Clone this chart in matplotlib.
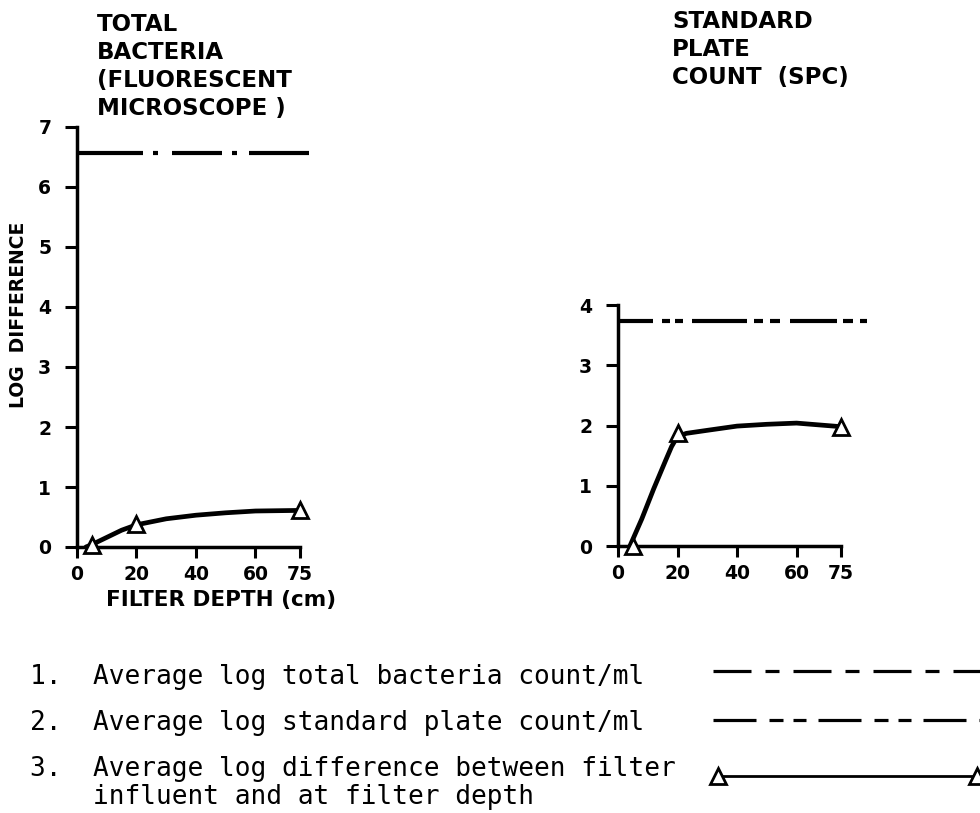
import matplotlib
matplotlib.use("Agg")
import matplotlib.pyplot as plt

# ---- values ----
depth_ticks = [0, 20, 40, 60, 75]
sample_depth = [5, 20, 75]

# total bacteria (fluorescent microscope)
tb_yticks = [0, 1, 2, 3, 4, 5, 6, 7]
tb_influent = 6.57
tb_diff = [0.03, 0.38, 0.61]
tb_curve_x = [3, 5, 10, 15, 20, 30, 40, 50, 60, 75]
tb_curve_y = [0.0, 0.04, 0.16, 0.28, 0.37, 0.47, 0.53, 0.57, 0.60, 0.61]

# standard plate count
spc_yticks = [0, 1, 2, 3, 4]
spc_influent = 3.73
spc_diff = [0.0, 1.87, 1.97]
spc_curve_x = [4, 8, 12, 16, 18, 20, 23, 30, 40, 50, 60, 75]
spc_curve_y = [0.0, 0.45, 0.95, 1.42, 1.65, 1.82, 1.87, 1.92, 1.99, 2.02, 2.04, 1.98]

titles = ["TOTAL\nBACTERIA\n(FLUORESCENT\nMICROSCOPE )",
          "STANDARD\nPLATE\nCOUNT  (SPC)"]
legend_text = ["1.  Average log total bacteria count/ml",
               "2.  Average log standard plate count/ml",
               "3.  Average log difference between filter",
               "    influent and at filter depth"]

plt.rcParams['lines.scale_dashes'] = False
plt.rcParams['font.family'] = ['DejaVu Sans']

W, H = 980, 813
fig = plt.figure(figsize=(W / 100, H / 100), dpi=100)
fig.patch.set_facecolor('white')


def px_axes(x0, y0, x1, y1):
    # box in pixels, origin top-left
    return fig.add_axes([x0 / W, 1 - y1 / H, (x1 - x0) / W, (y1 - y0) / H])


def pt(seq):
    return [v * 0.72 for v in seq]


def style(ax, yticks):
    for s in ['top', 'right']:
        ax.spines[s].set_visible(False)
    for s in ['left', 'bottom']:
        ax.spines[s].set_linewidth(2.5)
    ax.spines['bottom'].set_bounds(0, 75)
    ax.set_xticks(depth_ticks)
    ax.set_yticks(yticks)
    ax.tick_params(axis='y', length=8.5, width=2.2, pad=10, labelsize=13.5)
    ax.tick_params(axis='x', length=8, width=2.2, pad=5, labelsize=13.5)
    for lab in ax.get_xticklabels() + ax.get_yticklabels():
        lab.set_fontweight('bold')
    ax.patch.set_visible(False)


def draw_diff(ax, cx, cy, diff):
    ax.plot(cx, cy, color='black', lw=3.4, solid_capstyle='round',
            solid_joinstyle='round', clip_on=False)
    ax.plot(sample_depth, diff, ls='none', marker='^', ms=11, mfc='white',
            mec='black', mew=2, zorder=3, clip_on=False)


# left panel
ax1 = px_axes(77, 127, 309, 547)
ax1.set_xlim(0, 78)
ax1.set_ylim(0, 7)
style(ax1, tb_yticks)
ax1.axhline(tb_influent, color='black', lw=3,
            ls=(0, pt([66, 10, 5, 14, 50, 10, 5, 12, 60, 10])))
draw_diff(ax1, tb_curve_x, tb_curve_y, tb_diff)

# right panel
ax2 = px_axes(618, 305, 868, 546)
ax2.set_xlim(0, 84)
ax2.set_ylim(0, 4)
style(ax2, spc_yticks)
ax2.axhline(spc_influent, color='black', lw=3,
            ls=(0, pt([35, 9, 8, 5, 8, 9, 55, 7, 9, 7, 10, 10, 47, 6, 10, 7, 7, 20])))
draw_diff(ax2, spc_curve_x, spc_curve_y, spc_diff)

# panel titles and axis labels
fig.text(97 / W, 1 - 13 / H, titles[0], ha='left', va='top', fontsize=16.5,
         fontweight='bold', linespacing=1.28)
fig.text(672 / W, 1 - 10 / H, titles[1], ha='left', va='top', fontsize=16.5,
         fontweight='bold', linespacing=1.28)
fig.text(18 / W, 1 - 315 / H, "LOG  DIFFERENCE", rotation=90, ha='center',
         va='center', fontsize=13.5, fontweight='bold')
fig.text(221 / W, 1 - 600 / H, "FILTER DEPTH (cm)", ha='center', va='center',
         fontsize=15.5, fontweight='bold')

# key at the bottom
lax = fig.add_axes([0, 0, 1, 1])
lax.set_xlim(0, W)
lax.set_ylim(H, 0)
lax.axis('off')
lax.plot([713, 985], [671, 671], color='black', lw=2.3,
         ls=(0, pt([38, 14, 14, 14])))
lax.plot([713, 985], [720, 720], color='black', lw=2.3,
         ls=(0, pt([43, 13, 14, 10, 13, 12])))
lax.plot([718, 977], [776, 776], color='black', lw=2, marker='^', ms=11,
         mfc='white', mec='black', mew=2, clip_on=False)

for txt, yb in zip(legend_text, [684, 730, 776, 804]):
    lax.text(30, yb, txt, ha='left', va='baseline', fontsize=18.8,
             family='DejaVu Sans Mono')

fig.savefig('out.png', dpi=100)
